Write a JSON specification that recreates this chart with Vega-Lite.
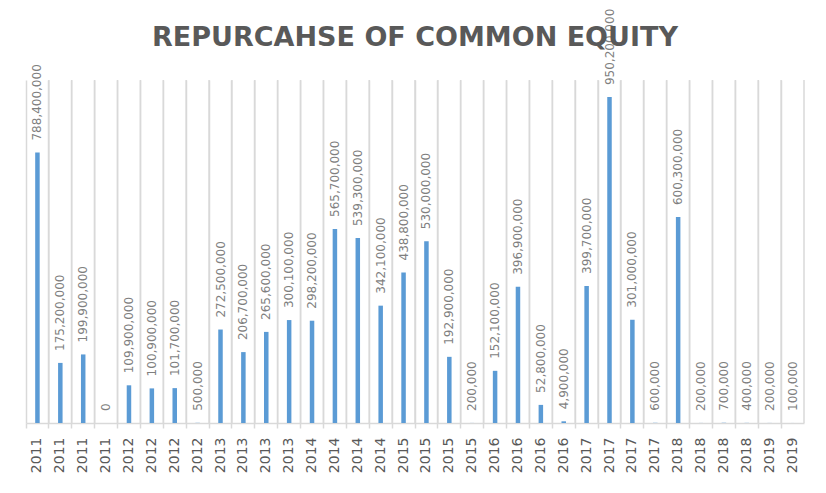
{
  "$schema": "https://vega.github.io/schema/vega-lite/v6.json",
  "width": 778,
  "height": 343,
  "autosize": "none",
  "padding": {"left": 26, "top": 80, "right": 22, "bottom": 70},
  "background": "white",
  "config": {"view": {"stroke": null}},
  "title": {"text": "REPURCAHSE OF COMMON EQUITY", "font": "DejaVu Sans", "fontSize": 27, "fontWeight": "bold", "color": "#595959", "anchor": "middle", "offset": -43},
  "data": {"values": [
    {"key": "2011-01", "value": 788400000},
    {"key": "2011-02", "value": 175200000},
    {"key": "2011-03", "value": 199900000},
    {"key": "2011-04", "value": 0},
    {"key": "2012-05", "value": 109900000},
    {"key": "2012-06", "value": 100900000},
    {"key": "2012-07", "value": 101700000},
    {"key": "2012-08", "value": 500000},
    {"key": "2013-09", "value": 272500000},
    {"key": "2013-10", "value": 206700000},
    {"key": "2013-11", "value": 265600000},
    {"key": "2013-12", "value": 300100000},
    {"key": "2014-13", "value": 298200000},
    {"key": "2014-14", "value": 565700000},
    {"key": "2014-15", "value": 539300000},
    {"key": "2014-16", "value": 342100000},
    {"key": "2015-17", "value": 438800000},
    {"key": "2015-18", "value": 530000000},
    {"key": "2015-19", "value": 192900000},
    {"key": "2015-20", "value": 200000},
    {"key": "2016-21", "value": 152100000},
    {"key": "2016-22", "value": 396900000},
    {"key": "2016-23", "value": 52800000},
    {"key": "2016-24", "value": 4900000},
    {"key": "2017-25", "value": 399700000},
    {"key": "2017-26", "value": 950200000},
    {"key": "2017-27", "value": 301000000},
    {"key": "2017-28", "value": 600000},
    {"key": "2018-29", "value": 600300000},
    {"key": "2018-30", "value": 200000},
    {"key": "2018-31", "value": 700000},
    {"key": "2018-32", "value": 400000},
    {"key": "2019-33", "value": 200000},
    {"key": "2019-34", "value": 100000}
  ]},
  "encoding": {
    "x": {
      "field": "key", "type": "nominal", "sort": null,
      "scale": {"paddingInner": 0, "paddingOuter": 0},
      "axis": {
        "title": null, "labelAngle": 270, "labelExpr": "slice(datum.label, 0, 4)",
        "labelFont": "DejaVu Sans", "labelFontSize": 14, "labelColor": "#595959", "labelPadding": 9,
        "domainColor": "#d9d9d9", "domainWidth": 1.5,
        "ticks": true, "tickColor": "#d9d9d9", "tickSize": 5, "tickWidth": 1.5, "bandPosition": 0,
        "grid": true, "gridColor": "#d9d9d9", "gridWidth": 1.5
      }
    }
  },
  "layer": [
    {
      "mark": {"type": "rule", "color": "#d9d9d9", "strokeWidth": 1.5},
      "encoding": {"x": {"field": "key", "type": "nominal", "sort": null, "bandPosition": 1}}
    },
    {
      "mark": {"type": "bar", "color": "#5b9bd5", "width": 4.5},
      "encoding": {"y": {"field": "value", "type": "quantitative", "scale": {"domain": [0, 1000000000]}, "axis": null}}
    },
    {
      "mark": {"type": "text", "angle": 270, "align": "left", "baseline": "middle", "dx": 12, "font": "DejaVu Sans", "fontSize": 12, "color": "#7f7f7f"},
      "encoding": {
        "y": {"field": "value", "type": "quantitative", "scale": {"domain": [0, 1000000000]}},
        "text": {"field": "value", "type": "quantitative", "format": ","}
      }
    }
  ]
}
